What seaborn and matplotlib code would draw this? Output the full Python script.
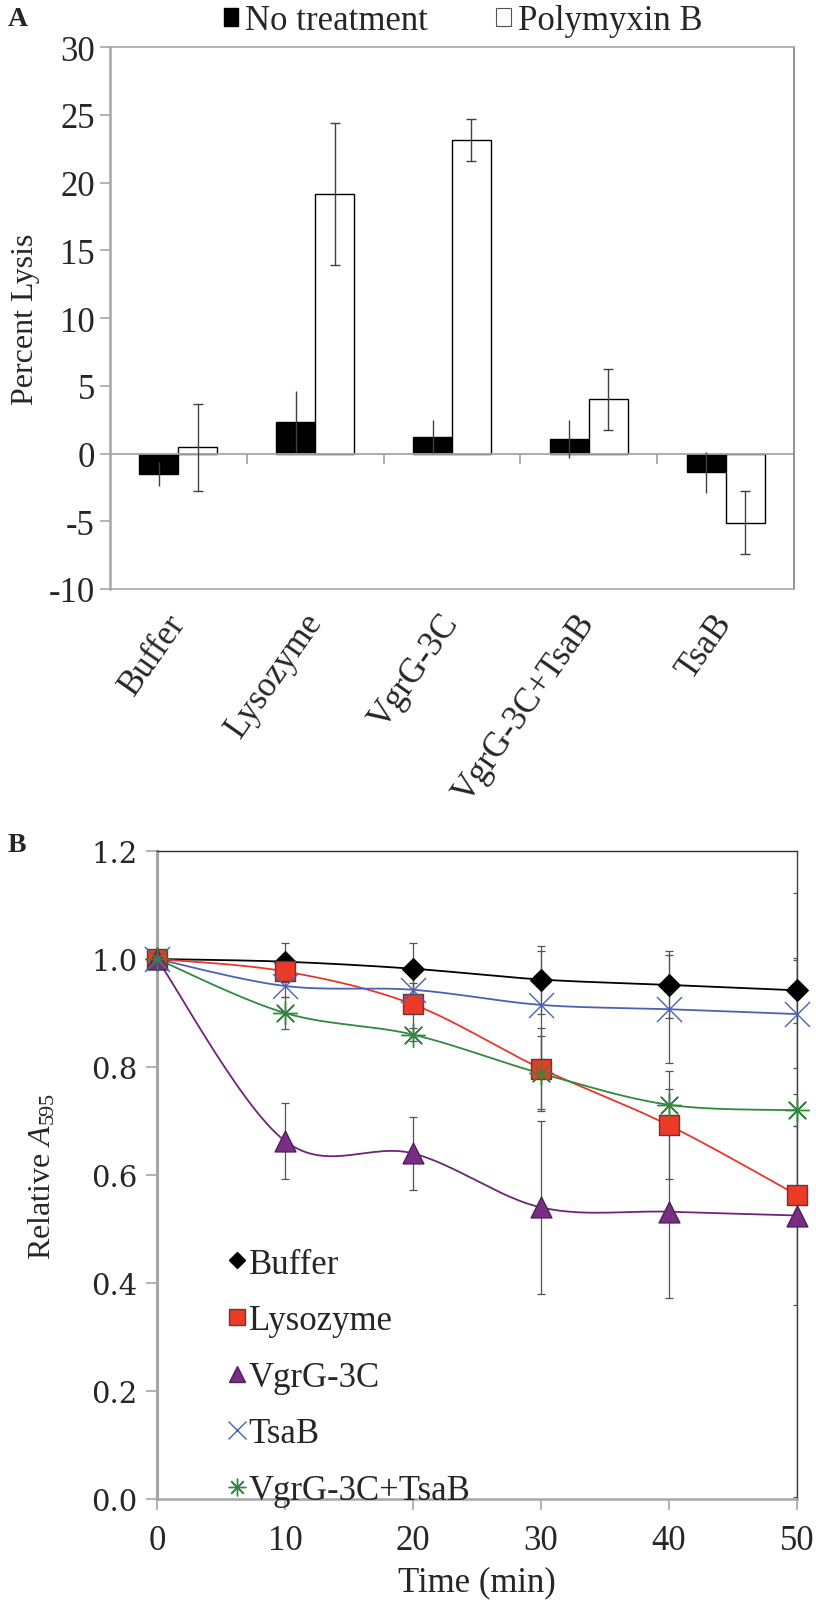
import numpy as np
import pandas as pd
import matplotlib
matplotlib.use("Agg")
import matplotlib.pyplot as plt
import seaborn as sns
from matplotlib.lines import Line2D
from matplotlib.patches import Patch

# ---------------- data ----------------
categories = ["Buffer", "Lysozyme", "VgrG-3C", "VgrG-3C+TsaB", "TsaB"]
treatments = ["No treatment", "Polymyxin B"]
no_treatment = [-1.5, 2.35, 1.25, 1.1, -1.4]
no_treatment_err = [0.9, 2.25, 1.2, 1.4, 1.5]
polymyxin = [0.45, 19.15, 23.1, 4.0, -5.1]
polymyxin_err = [3.2, 5.25, 1.55, 2.25, 2.3]

time_min = [0, 10, 20, 30, 40, 50]
series_names = ["Buffer", "Lysozyme", "VgrG-3C", "TsaB", "VgrG-3C+TsaB"]
buffer_a = [1.0, 0.995, 0.982, 0.962, 0.952, 0.942]
buffer_err = [0, 0.035, 0.047, 0.063, 0.062, 0.06]
lysozyme_a = [1.0, 0.977, 0.916, 0.797, 0.692, 0.563]
lysozyme_err = [0, 0.02, 0.06, 0.075, 0.1, 0.56]
vgrg_a = [1.0, 0.663, 0.640, 0.540, 0.532, 0.525]
vgrg_err = [0, 0.07, 0.067, 0.16, 0.16, 0.165]
tsab_a = [1.0, 0.950, 0.943, 0.915, 0.907, 0.898]
tsab_err = [0, 0.02, 0.012, 0.1, 0.1, 0.1]
combo_a = [1.0, 0.900, 0.860, 0.788, 0.730, 0.720]
combo_err = [0, 0.03, 0.012, 0.07, 0.03, 0.03]

# ---------------- style ----------------
sns.set_theme(style="white")
plt.rcParams["font.family"] = ["Liberation Serif", "DejaVu Serif"]
plt.rcParams["mathtext.fontset"] = "custom"
plt.rcParams["mathtext.rm"] = "Liberation Serif"
plt.rcParams["mathtext.it"] = "Liberation Serif:italic"

fig = plt.figure(figsize=(8.16, 16.08), dpi=100)
W, H = 816, 1608

def ax_rect(l, r, t, b):
    return [l / W, 1 - b / H, (r - l) / W, (b - t) / H]

GRAY = "#a6a6a6"
ERRC = "#404040"

# ---------------- panel A ----------------
axA = fig.add_axes(ax_rect(110, 794, 48, 590))
dfA = pd.DataFrame({
    "category": categories * 2,
    "treatment": [treatments[0]] * len(categories) + [treatments[1]] * len(categories),
    "value": no_treatment + polymyxin,
})
sns.barplot(data=dfA, x="category", y="value", hue="treatment", order=categories,
            hue_order=treatments, palette=["black", "white"], width=0.57,
            errorbar=None, edgecolor="black", linewidth=1.0, ax=axA, legend=False)

for cont, vals, errs, cap in zip(axA.containers, [no_treatment, polymyxin],
                                 [no_treatment_err, polymyxin_err], [0, 3.5]):
    xs = [p.get_x() + p.get_width() / 2 for p in cont.patches]
    axA.errorbar(xs, vals, yerr=errs, fmt="none", ecolor=ERRC, elinewidth=1.0,
                 capsize=cap, capthick=1.0, zorder=3)

axA.set_ylim(-10, 30)
axA.set_xlim(-0.5, len(categories) - 0.5)
axA.set_yticks(np.arange(-10, 31, 5))
axA.set_yticklabels([str(v) for v in range(-10, 31, 5)], fontsize=25)
axA.axhline(0, color=GRAY, lw=1.3, zorder=1)
bounds = np.arange(len(categories) - 1) + 0.5
axA.vlines(bounds, -0.75, 0, color=GRAY, lw=1.3, zorder=1)
axA.set_xticks(range(len(categories)))
axA.set_xticklabels(categories, fontsize=25, rotation=55, ha="right",
                    rotation_mode="anchor", va="center")
axA.tick_params(axis="x", length=0, pad=20)
axA.tick_params(axis="y", length=7, width=1.2, color=GRAY, direction="out", pad=4, left=True)
axA.set_xlabel("")
axA.set_ylabel("Percent Lysis", fontsize=23, labelpad=6)
for s in axA.spines.values():
    s.set_color(GRAY)
    s.set_linewidth(1.2)
axA.spines["left"].set_linewidth(1.8)
axA.spines["right"].set_color("#808080")

fig.legend(handles=[Patch(facecolor="black", edgecolor="black"),
                    Patch(facecolor="white", edgecolor="#555555", linewidth=0.8)],
           labels=treatments, loc="center", bbox_to_anchor=(463 / W, 1 - 22 / H),
           ncol=2, frameon=False, fontsize=25, handlelength=0.42, handleheight=0.42,
           handletextpad=0.2, columnspacing=1.95, borderpad=0)

fig.text(8 / W, 1 - 20 / H, "A", fontsize=20, fontweight="bold", va="center", ha="left")

# ---------------- panel B ----------------
axB = fig.add_axes(ax_rect(157, 797, 852, 1500))

def smooth(x, y, n=30):
    pts = np.column_stack([x, y]).astype(float)
    P = np.vstack([pts[0], pts, pts[-1]])
    out = []
    t = np.linspace(0, 1, n)[:, None]
    for i in range(1, len(P) - 2):
        p0, p1, p2, p3 = P[i - 1], P[i], P[i + 1], P[i + 2]
        c1 = p1 + (p2 - p0) / 6
        c2 = p2 - (p3 - p1) / 6
        out.append((1 - t) ** 3 * p1 + 3 * (1 - t) ** 2 * t * c1
                   + 3 * (1 - t) * t ** 2 * c2 + t ** 3 * p2)
    return np.vstack(out)

series_vals = [buffer_a, lysozyme_a, vgrg_a, tsab_a, combo_a]
series_errs = [buffer_err, lysozyme_err, vgrg_err, tsab_err, combo_err]
line_cols = ["black", "#e8372a", "#6e2478", "#4a62b4", "#2f8a3c"]
face_cols = ["black", "#ec3a28", "#7b2c84", "#4a62b4", "#2f8a3c"]
edge_cols = ["black", "#5b3b3b", "#4a2552", "#4a62b4", "#2f8a3c"]
markers = ["D", "s", "^", "x", (8, 2, 0)]
msizes = [11, 15, 15, 18, 17]

for vals, errs in zip(series_vals, series_errs):
    axB.errorbar(time_min, vals, yerr=errs, fmt="none", ecolor="#555555",
                 elinewidth=0.9, capsize=3, capthick=0.9, zorder=2)

dfB = pd.DataFrame({
    "time": time_min * len(series_names),
    "value": sum(series_vals, []),
    "series": sum([[n] * len(time_min) for n in series_names], []),
})

for name, vals, lc in zip(series_names, series_vals, line_cols):
    sm = smooth(time_min, vals)
    ln, = axB.plot(sm[:, 0], sm[:, 1], color=lc, lw=1.3, zorder=3)
    ln.set_clip_on(False)

for name, fc, ec, mk, ms in zip(series_names, face_cols, edge_cols, markers, msizes):
    sub = dfB[dfB["series"] == name]
    filled = mk in ("D", "s", "^")
    sns.scatterplot(data=sub, x="time", y="value", marker=mk, s=ms ** 2,
                    color=fc, edgecolor=ec if filled else None,
                    linewidth=1.0, ax=axB, zorder=4, legend=False)
    axB.collections[-1].set_clip_on(False)

axB.set_xlim(0, 50)
axB.set_ylim(0, 1.2)
axB.set_xticks(time_min)
axB.set_xticklabels([str(t) for t in time_min], fontsize=25)
axB.set_yticks(np.arange(0, 1.21, 0.2))
axB.set_yticklabels([f"{v:.1f}" for v in np.arange(0, 1.21, 0.2)], fontsize=21,
                    family="DejaVu Serif")
axB.tick_params(axis="both", length=8, width=1.2, color=GRAY, direction="out",
                left=True, bottom=True)
axB.tick_params(axis="x", pad=10)
axB.tick_params(axis="y", pad=6)
axB.set_xlabel("Time (min)", fontsize=25, labelpad=6)
axB.set_ylabel("Relative $\\mathit{A}_{\\mathrm{595}}$", fontsize=23, labelpad=24)
axB.spines["left"].set_color(GRAY)
axB.spines["left"].set_linewidth(2.2)
axB.spines["bottom"].set_color(GRAY)
axB.spines["bottom"].set_linewidth(1.8)
axB.spines["top"].set_color("#303030")
axB.spines["top"].set_linewidth(1.0)
axB.spines["right"].set_color("#404040")
axB.spines["right"].set_linewidth(1.0)

handles = []
for fc, ec, mk, ms in zip(face_cols, edge_cols, markers, msizes):
    handles.append(Line2D([], [], ls="None", marker=mk, markersize=ms * 0.75,
                          markerfacecolor=fc, markeredgecolor=ec, markeredgewidth=1.0))
axB.legend(handles=handles, labels=series_names, loc="lower left",
           bbox_to_anchor=(0.07, -0.05), frameon=False, fontsize=25,
           handlelength=0.6, handletextpad=0.05, labelspacing=0.68, borderpad=0.2)

fig.text(8 / W, 1 - 846 / H, "B", fontsize=20, fontweight="bold", va="center", ha="left")

fig.savefig("out.png", dpi=100)
